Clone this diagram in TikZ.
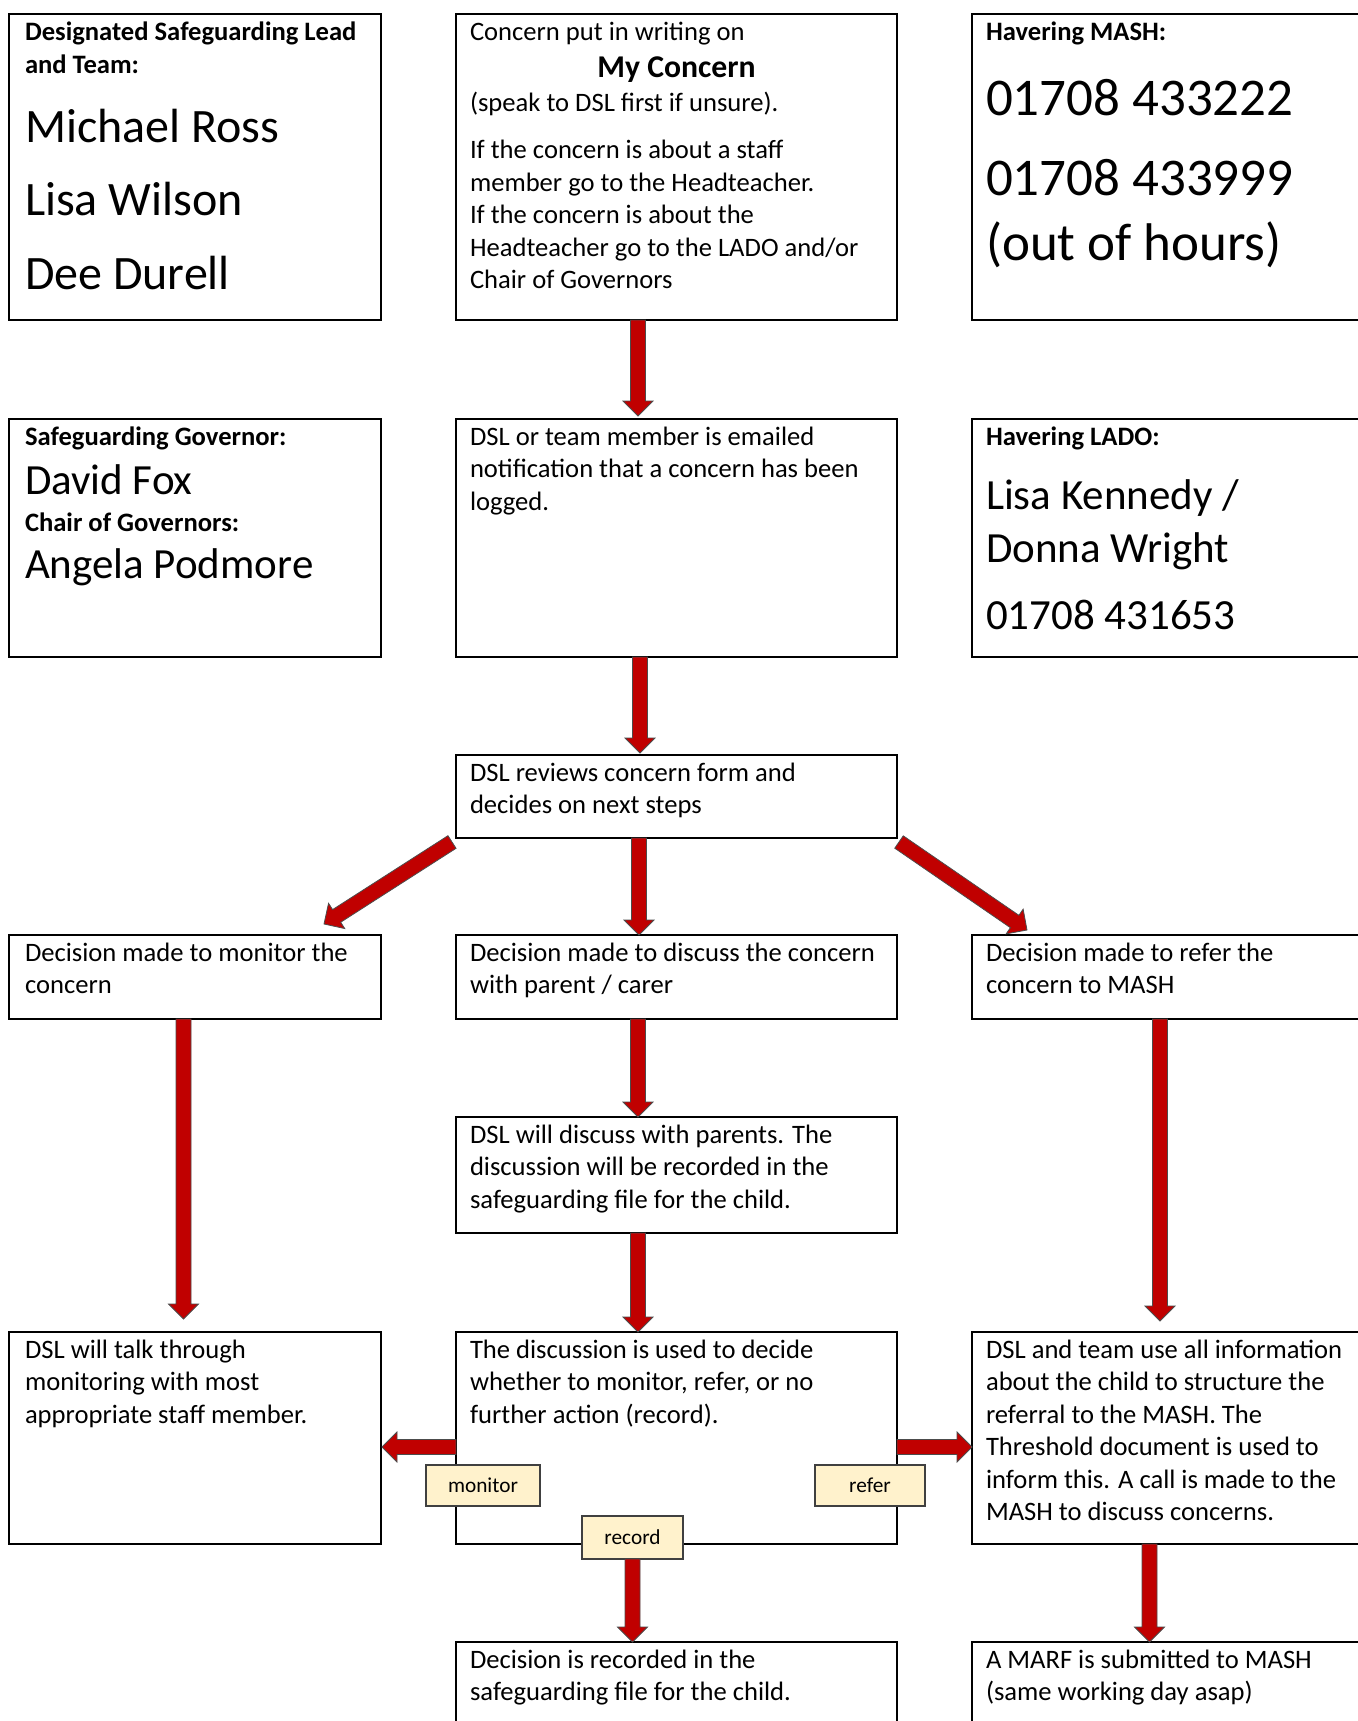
\documentclass[tikz,border=0pt]{standalone}
\usepackage{fontspec}
\setmainfont{Carlito}
\usetikzlibrary{calc}
\definecolor{arrred}{HTML}{C00000}
\definecolor{lblfill}{HTML}{FFF2CC}
\newcommand\blockarrow[3][15pt]{%
  \coordinate (ba-t) at #2; \coordinate (ba-h) at #3;
  \coordinate (ba-b) at ($(ba-h)!#1!(ba-t)$);
  \draw[blockarr] ($(ba-t)!7.5pt!90:(ba-h)$) -- ($(ba-b)!7.5pt!90:(ba-h)$) -- ($(ba-b)!15pt!90:(ba-h)$) -- (ba-h) -- ($(ba-b)!15pt!-90:(ba-h)$) -- ($(ba-b)!7.5pt!-90:(ba-h)$) -- ($(ba-t)!7.5pt!-90:(ba-h)$) -- cycle;}
\tikzset{
  box/.style={draw=black, line width=2pt, fill=white, anchor=north west, inner sep=0pt, outer sep=0pt},
  blockarr/.style={fill=arrred, draw=black!70, line width=0.8pt, line join=miter},
  lbl/.style={draw=black!75, line width=1.2pt, fill=lblfill, inner sep=0pt, outer sep=0pt, font=\fontsize{21.3}{25}\selectfont},
  txt/.style={anchor=base west, inner sep=0pt, outer sep=0pt, align=left, font=\fontsize{26.6}{32.5}\selectfont},
  hdr/.style={txt, font=\fontsize{26.6}{33}\selectfont\bfseries},
}
\begin{document}
\begin{tikzpicture}[x=1pt, y=-1pt]
\useasboundingbox[fill=white] (0,0) rectangle (1357,1721);
% boxes
\node[box, minimum width=372pt, minimum height=306pt] (b1) at (9,14) {};
\node[box, minimum width=441pt, minimum height=306pt] (b2) at (456,14) {};
\node[box, minimum width=420pt, minimum height=306pt] (b3) at (972,14) {};
\node[box, minimum width=372pt, minimum height=238pt] (b4) at (9,419) {};
\node[box, minimum width=441pt, minimum height=238pt] (b5) at (456,419) {};
\node[box, minimum width=420pt, minimum height=238pt] (b6) at (972,419) {};
\node[box, minimum width=441pt, minimum height=83pt] (b7) at (456,755) {};
\node[box, minimum width=372pt, minimum height=84pt] (b8) at (9,935) {};
\node[box, minimum width=441pt, minimum height=84pt] (b9) at (456,935) {};
\node[box, minimum width=420pt, minimum height=84pt] (b10) at (972,935) {};
\node[box, minimum width=441pt, minimum height=116pt] (b11) at (456,1117) {};
\node[box, minimum width=372pt, minimum height=212pt] (b12) at (9,1332) {};
\node[box, minimum width=441pt, minimum height=212pt] (b13) at (456,1332) {};
\node[box, minimum width=420pt, minimum height=212pt] (b14) at (972,1332) {};
\node[box, minimum width=441pt, minimum height=120pt] (b15) at (456,1642) {};
\node[box, minimum width=420pt, minimum height=120pt] (b16) at (972,1642) {};
% texts (anchored at the baseline of their last line)
\node[hdr] (t1a) at (25,73) {Designated Safeguarding Lead\\and Team:};
\node[txt, font=\fontsize{48}{73.5}\selectfont] (t1b) at (25,289) {Michael Ross\\Lisa Wilson\\Dee Durell};
\node[txt] (t2a) at (470,40) {Concern put in writing on};
\node[anchor=base, inner sep=0pt, font=\fontsize{31.7}{38}\selectfont\bfseries] (t2b) at (676.5,77) {My Concern};
\node[txt] (t2c) at (470,111) {(speak to DSL first if unsure).};
\node[txt] (t2d) at (470,288.5) {If the concern is about a staff\\member go to the Headteacher.\\If the concern is about the\\Headteacher go to the LADO and/or\\Chair of Governors};
\node[hdr] (t3a) at (986,40) {Havering MASH:};
\node[txt, font=\fontsize{53}{62}\selectfont] (t3b) at (986,115) {01708 433222};
\node[txt, font=\fontsize{53}{65}\selectfont] (t3c) at (986,260) {01708 433999\\(out of hours)};
\node[hdr] (t4a) at (25,445) {Safeguarding Governor:};
\node[txt, font=\fontsize{43}{50}\selectfont] (t4b) at (25,494) {David Fox};
\node[hdr] (t4c) at (25,531) {Chair of Governors:};
\node[txt, font=\fontsize{43}{50}\selectfont] (t4d) at (25,578) {Angela Podmore};
\node[txt] (t5) at (470,510) {DSL or team member is emailed\\notification that a concern has been\\logged.};
\node[hdr] (t6a) at (986,445) {Havering LADO:};
\node[txt, font=\fontsize{43}{53}\selectfont] (t6b) at (986,562) {Lisa Kennedy /\\Donna Wright};
\node[txt, font=\fontsize{43}{53}\selectfont] (t6c) at (986,629) {01708 431653};
\node[txt] (t7) at (470,813.5) {DSL reviews concern form and\\decides on next steps};
\node[txt] (t8) at (25,993.5) {Decision made to monitor the\\concern};
\node[txt] (t9) at (470,993.5) {Decision made to discuss the concern\\with parent / carer};
\node[txt] (t10) at (986,993.5) {Decision made to refer the\\concern to MASH};
\node[txt] (t11) at (470,1208) {DSL will discuss with parents. The\\discussion will be recorded in the\\safeguarding file for the child.};
\node[txt] (t12) at (25,1423) {DSL will talk through\\monitoring with most\\appropriate staff member.};
\node[txt] (t13) at (470,1423) {The discussion is used to decide\\whether to monitor, refer, or no\\further action (record).};
\node[txt] (t14) at (986,1520.5) {DSL and team use all information\\about the child to structure the\\referral to the MASH. The\\Threshold document is used to\\inform this. A call is made to the\\MASH to discuss concerns.};
\node[txt] (t15) at (470,1700.5) {Decision is recorded in the\\safeguarding file for the child.};
\node[txt] (t16) at (986,1700.5) {A MARF is submitted to MASH\\(same working day asap)};
% arrows
\blockarrow{($(b2.south west)+(182,0)$)}{($(b5.north west)+(182,-3)$)}
\blockarrow{($(b5.south west)+(184,0)$)}{($(b7.north west)+(184,-2)$)}
\blockarrow{($(b7.south west)+(183,0)$)}{($(b9.north west)+(183,0)$)}
\blockarrow{($(b9.south west)+(182,0)$)}{($(b11.north west)+(182,0)$)}
\blockarrow{($(b11.south west)+(182,0)$)}{($(b13.north west)+(182,0)$)}
\blockarrow{($(b7.south west)+(-4,4)$)}{($(b8.north east)+(-57,-11)$)}
\blockarrow{($(b7.south east)+(2,4)$)}{($(b10.north west)+(55,-5)$)}
\blockarrow{($(b8.south west)+(174.5,0)$)}{($(b12.north west)+(174.5,-13)$)}
\blockarrow{($(b10.south west)+(188,0)$)}{($(b14.north west)+(188,-11)$)}
\blockarrow{($(b13.west)+(0,9)$)}{($(b12.east)+(1,9)$)}
\blockarrow{($(b13.east)+(0,9)$)}{($(b14.west)+(0,9)$)}
\blockarrow{($(b14.south west)+(177.5,0)$)}{($(b16.north west)+(177.5,0)$)}
% labels
\node[lbl, minimum width=114pt, minimum height=41pt] (lmon) at (483,1485.5) {monitor};
\node[lbl, minimum width=110pt, minimum height=41pt] (lref) at (870,1485.5) {refer};
\node[lbl, minimum width=101pt, minimum height=43pt] (lrec) at (632.5,1537.5) {record};
\blockarrow{(lrec.south)}{(lrec.south |- b15.north)}
\end{tikzpicture}
\end{document}
